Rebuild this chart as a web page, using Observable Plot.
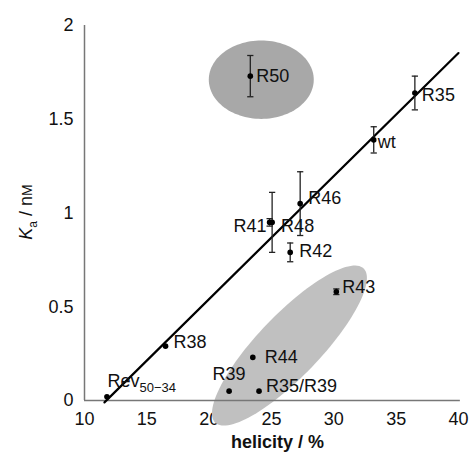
<!DOCTYPE html>
<html>
<head>
<meta charset="utf-8">
<script src="https://cdn.jsdelivr.net/npm/d3@7"></script>
<script src="https://cdn.jsdelivr.net/npm/@observablehq/plot@0.6"></script>
<style>
  html, body { margin: 0; padding: 0; background: #fff; }
</style>
</head>
<body>
<div id="chart"></div>
<script>
// ---- data ----
const names    = ["Rev50-34", "R38", "R39", "R35/R39", "R44", "R43", "R42", "R41", "R48", "R46", "wt", "R35", "R50"];
const helicity = [11.8, 16.5, 21.6, 24.0, 23.5, 30.2, 26.5, 24.85, 25.05, 27.3, 33.2, 36.5, 23.3];
const ka       = [0.02, 0.29, 0.05, 0.05, 0.23, 0.58, 0.79, 0.95, 0.95, 1.05, 1.39, 1.64, 1.73];
const kaErr    = [0, 0, 0, 0, 0, 0.015, 0.05, 0.02, 0.16, 0.17, 0.07, 0.09, 0.11];

// regression line end points
const fitX = [11.6, 40.0];
const fitY = [-0.01, 1.853];

// ellipses: center, semi-axis vectors (data units)
const ellipseTop    = [24.18, 1.711, 4.21, 0, 0, 0.209];
const ellipseBottom = [26.44, 0.293, 5.95, 0.411, 1.79, -0.115];

const xTicks = [10, 15, 20, 25, 30, 35, 40];
const yTicks = [0, 0.5, 1, 1.5, 2];

// ---- label placement (style, px) ----
const labelPlace = {
  "R38":     {dx: 8,  dy: -4, anchor: "start"},
  "R39":     {dx: 0,  dy: -17, anchor: "middle"},
  "R35/R39": {dx: 7,  dy: -5, anchor: "start"},
  "R44":     {dx: 12, dy: 0, anchor: "start"},
  "R43":     {dx: 6,  dy: -5, anchor: "start"},
  "R42":     {dx: 9,  dy: -1, anchor: "start"},
  "R41":     {dx: -3, dy: 4, anchor: "end"},
  "R48":     {dx: 9,  dy: 4, anchor: "start"},
  "R46":     {dx: 8,  dy: -5, anchor: "start"},
  "wt":      {dx: 4,  dy: 2, anchor: "start"},
  "R35":     {dx: 7,  dy: 2, anchor: "start"},
  "R50":     {dx: 6,  dy: 0, anchor: "start"}
};

function ellipsePoints(e, n = 120) {
  const [cx, cy, ux, uy, vx, vy] = e;
  return d3.range(n).map(k => {
    const t = 2 * Math.PI * k / n;
    return {x: cx + Math.cos(t) * ux + Math.sin(t) * vx, y: cy + Math.cos(t) * uy + Math.sin(t) * vy};
  });
}

const idx = d3.range(names.length);
const errIdx = idx.filter(i => kaErr[i] > 0);
const capHalf = 0.25;

const labelMarks = idx.filter(i => labelPlace[names[i]]).map(i => {
  const p = labelPlace[names[i]];
  return Plot.text([i], {x: j => helicity[j], y: j => ka[j], text: j => names[j],
    dx: p.dx, dy: p.dy, textAnchor: p.anchor, fontSize: 18, fill: "#111"});
});

const chart = Plot.plot({
  width: 472,
  height: 459,
  marginLeft: 84,
  marginRight: 14,
  marginTop: 25,
  marginBottom: 59,
  style: {fontFamily: "'Liberation Sans', Arial, sans-serif", fontSize: "18px", color: "#111", background: "#fff"},
  x: {domain: [10, 40], ticks: xTicks, tickSize: 0, tickPadding: 12, label: null},
  y: {domain: [0, 2], ticks: yTicks, tickSize: 0, tickPadding: 11, label: null, tickFormat: d => String(d)},
  marks: [
    Plot.line(ellipsePoints(ellipseTop), {x: "x", y: "y", curve: "linear-closed", fill: "#a8a8a8", stroke: "none"}),
    Plot.line(ellipsePoints(ellipseBottom), {x: "x", y: "y", curve: "linear-closed", fill: "#c0c0c0", stroke: "none"}),
    Plot.ruleX([10], {y1: 0, y2: 2, stroke: "#777", strokeWidth: 1.5}),
    Plot.ruleY([0], {x1: 10, x2: 40.15, stroke: "#777", strokeWidth: 1.5}),
    Plot.line(fitX.map((x, i) => ({x, y: fitY[i]})), {x: "x", y: "y", stroke: "#000", strokeWidth: 2.2}),
    Plot.ruleX(errIdx, {x: i => helicity[i], y1: i => ka[i] - kaErr[i], y2: i => ka[i] + kaErr[i], stroke: "#222", strokeWidth: 1.3}),
    Plot.link(errIdx, {x1: i => helicity[i] - capHalf, x2: i => helicity[i] + capHalf, y1: i => ka[i] + kaErr[i], y2: i => ka[i] + kaErr[i], stroke: "#222", strokeWidth: 1.3}),
    Plot.link(errIdx, {x1: i => helicity[i] - capHalf, x2: i => helicity[i] + capHalf, y1: i => ka[i] - kaErr[i], y2: i => ka[i] - kaErr[i], stroke: "#222", strokeWidth: 1.3}),
    Plot.dot(idx, {x: i => helicity[i], y: i => ka[i], r: 2.8, fill: "#000", stroke: "none"}),
    ...labelMarks,
    Plot.text(["helicity / %"], {frameAnchor: "bottom", dy: 47, dx: 6, fontSize: 18, fontWeight: "bold", fill: "#111"})
  ]
});

document.getElementById("chart").appendChild(chart);

// Rev50-34 label with subscript, and y-axis title
const sx = chart.scale("x"), sy = chart.scale("y");
const svg = d3.select(chart);
const ri = names.indexOf("Rev50-34");
const rev = svg.append("text")
  .attr("x", sx.apply(helicity[ri]) + 1)
  .attr("y", sy.apply(ka[ri]) - 9)
  .attr("text-anchor", "start")
  .attr("font-size", 18).attr("fill", "#111");
rev.append("tspan").text("Rev");
rev.append("tspan").attr("font-size", 13).attr("dy", 5).text("50\u221234");

const yl = svg.append("text")
  .attr("transform", "translate(32,212) rotate(-90)")
  .attr("text-anchor", "middle")
  .attr("font-size", 18).attr("fill", "#111");
yl.append("tspan").attr("font-style", "italic").text("K");
yl.append("tspan").attr("font-size", 12).attr("dy", 5).text("a");
yl.append("tspan").attr("dy", -5).text(" / n");
yl.append("tspan").attr("font-size", 14).text("M");
</script>
</body>
</html>
